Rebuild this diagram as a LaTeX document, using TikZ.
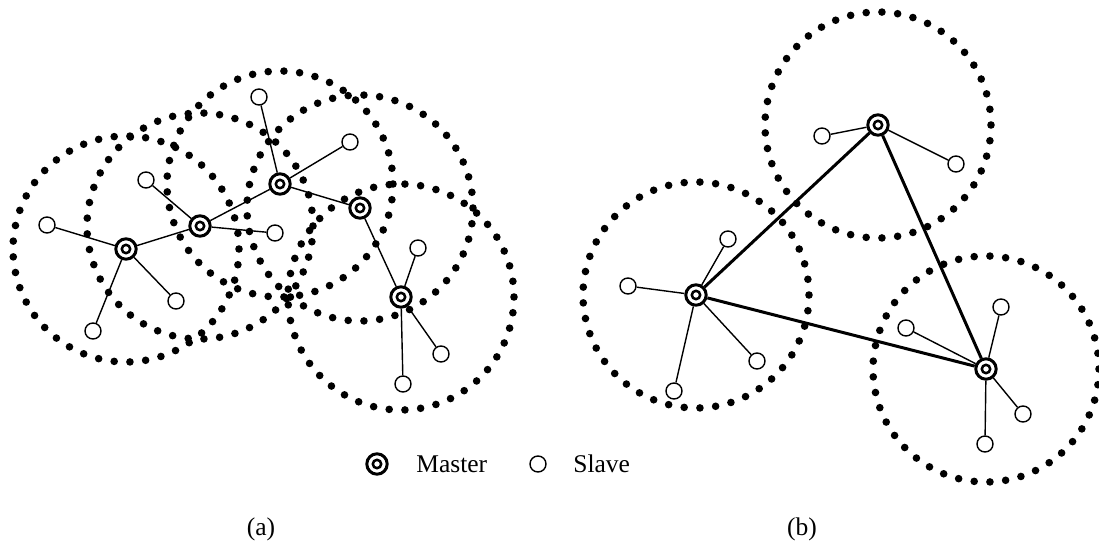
\documentclass[tikz,border=0pt]{standalone}
\usepackage{fontspec}
\setmainfont{Liberation Serif}
\usetikzlibrary{backgrounds}
\tikzset{
  master/.style={circle, draw, line width=1.5pt, fill=white, inner sep=0pt, minimum size=10.2pt, outer sep=0.75pt,
    path picture={\draw[line width=1.25pt] (path picture bounding box.center) circle (2.1pt);}},
  slave/.style={circle, draw, line width=0.7pt, fill=white, inner sep=0pt, minimum size=8pt},
  link/.style={line width=0.7pt},
  thicklink/.style={line width=1.5pt},
  lbl/.style={font=\fontsize{12.75pt}{15pt}\selectfont, inner sep=0pt, anchor=west},
  captext/.style={font=\fontsize{12.75pt}{15pt}\selectfont, inner sep=0pt}
}
\newcommand{\dotring}[1]{\foreach \a in {0,8,...,352} \fill (#1) ++(\a:113) circle (1.9pt);}
\begin{document}
\begin{tikzpicture}[x=0.5pt,y=-0.5pt]
\useasboundingbox (0,0) rectangle (1099,546);
% (a) masters
\node[master] (m1) at (126,249) {};
\node[master] (m2) at (200,226) {};
\node[master] (m3) at (280,184) {};
\node[master] (m4) at (360,208) {};
\node[master] (m5) at (401,297) {};
% (a) slaves
\node[slave] (s1) at (47,225) {};
\node[slave] (s2) at (176,301) {};
\node[slave] (s3) at (93,331) {};
\node[slave] (s4) at (146,180) {};
\node[slave] (s5) at (275,233) {};
\node[slave] (s6) at (259,97) {};
\node[slave] (s7) at (350,142) {};
\node[slave] (s8) at (418,248) {};
\node[slave] (s9) at (441,354) {};
\node[slave] (s10) at (403,384) {};
% (b) masters
\node[master] (n1) at (878,125) {};
\node[master] (n2) at (696,295) {};
\node[master] (n3) at (986,369) {};
% (b) slaves
\node[slave] (t1) at (822,136) {};
\node[slave] (t2) at (956,164) {};
\node[slave] (t3) at (728,239) {};
\node[slave] (t4) at (628,286) {};
\node[slave] (t5) at (757,361) {};
\node[slave] (t6) at (674,391) {};
\node[slave] (t7) at (1001,307) {};
\node[slave] (t8) at (906,328) {};
\node[slave] (t9) at (1023,414) {};
\node[slave] (t10) at (985,444) {};
% legend
\node[master] (lm) at (377,464) {};
\node[lbl] (lmt) at (416,464) {Master};
\node[slave] (ls) at (538,464) {};
\node[lbl] (lst) at (573,464) {Slave};
% captions
\node[captext] (capa) at (261,529) {(a)};
\node[captext] (capb) at (802,529) {(b)};
% dotted ranges
\begin{scope}[on background layer]
\dotring{m1}\dotring{m2}\dotring{m3}\dotring{m4}\dotring{m5}
\dotring{n1}\dotring{n2}\dotring{n3}
\end{scope}
% links (a)
\draw[link] (m1) -- (m2) (m2) -- (m3) (m3) -- (m4) (m4) -- (m5);
\draw[link] (m1) -- (s1) (m1) -- (s2) (m1) -- (s3);
\draw[link] (m2) -- (s4) (m2) -- (s5);
\draw[link] (m3) -- (s6) (m3) -- (s7);
\draw[link] (m5) -- (s8) (m5) -- (s9) (m5) -- (s10);
% links (b)
\draw[thicklink] (n1) -- (n2) (n2) -- (n3) (n3) -- (n1);
\draw[link] (n1) -- (t1) (n1) -- (t2);
\draw[link] (n2) -- (t3) (n2) -- (t4) (n2) -- (t5) (n2) -- (t6);
\draw[link] (n3) -- (t7) (n3) -- (t8) (n3) -- (t9) (n3) -- (t10);
\end{tikzpicture}
\end{document}
